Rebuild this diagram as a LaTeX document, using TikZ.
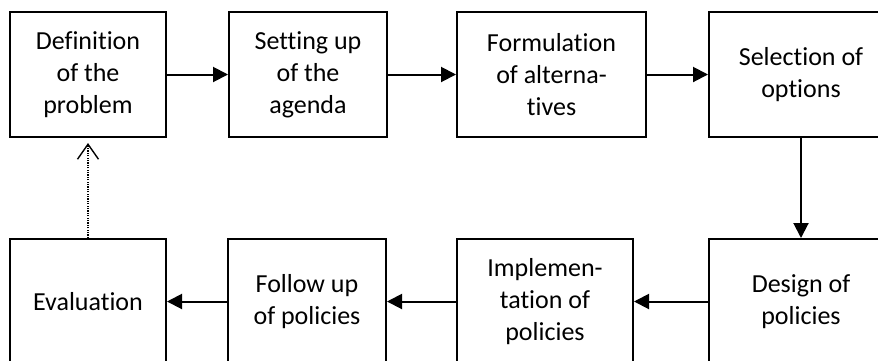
\documentclass[tikz,border=0pt]{standalone}
\usepackage{fontspec}
\setmainfont{Carlito}[Ligatures=NoCommon]
\usetikzlibrary{arrows.meta,positioning}

\begin{document}
\begin{tikzpicture}[
        x=1pt, y=-1pt,
        stage/.style={draw=black, line width=2pt, align=center, inner sep=0pt,
            minimum height=125pt, font=\fontsize{26pt}{32pt}\selectfont},
        flow/.style={line width=2pt, -{Triangle[length=15pt, width=15pt]}},
        feedback/.style={line width=1.2pt, dash pattern=on 1.2pt off 1.2pt,
            -{Straight Barb[length=15pt, width=21pt, line width=1.4pt]}}
    ]
        % Fixed frame of the picture
        \useasboundingbox (0,0) rectangle (878,360);

        % Upper row of stages
        \node[stage, minimum width=156pt] (defn) at (88,74.5) {Definition\\of the\\problem};
        \node[stage, minimum width=158pt] (agenda) at (308,74.5) {Setting up\\of the\\agenda};
        \node[stage, minimum width=189pt] (altern) at (551.5,74.5) {Formulation\\of alterna-\\tives};
        \node[stage, minimum width=184pt] (select) at (801,74.5) {Selection of\\options};

        % Lower row of stages
        \node[stage, minimum width=184pt] (design) at (801,301.5) {Design of\\policies};
        \node[stage, minimum width=176pt] (implem) at (545,301.5) {Implemen-\\tation of\\policies};
        \node[stage, minimum width=158pt] (follow) at (307,301.5) {Follow up\\of policies};
        \node[stage, minimum width=156pt] (eval) at (88,301.5) {Evaluation};

        % Main flow of the cycle
        \draw[flow] (defn) -- (agenda);
        \draw[flow] (agenda) -- (altern);
        \draw[flow] (altern) -- (select);
        \draw[flow] (select) -- (design);
        \draw[flow] (design) -- (implem);
        \draw[flow] (implem) -- (follow);
        \draw[flow] (follow) -- (eval);

        % Feedback back to the start
        \draw[feedback, shorten >=5pt] (eval.north) -- (defn.south);
    \end{tikzpicture}
\end{document}
